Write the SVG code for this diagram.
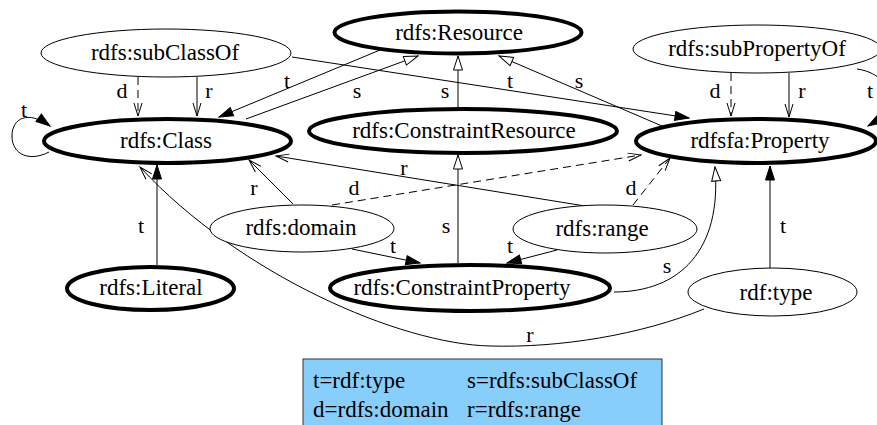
<svg xmlns="http://www.w3.org/2000/svg" width="877" height="425" viewBox="0 0 877 425">
  <style>
    text { font-family: "Liberation Serif", "Times New Roman", serif; font-size: 23px; fill: #000; }
    .node text { text-anchor: middle; }
    .lbl { text-anchor: middle; font-size: 22px; }
    .thin { fill: #fff; stroke: #000; stroke-width: 1; }
    .bold { fill: #fff; stroke: #000; stroke-width: 4; }
    .edge { fill: none; stroke: #000; stroke-width: 1; }
    .dash { stroke-dasharray: 8 5; }
    .t { marker-end: url(#arrowFilled); }
    .s { marker-end: url(#arrowHollow); }
    .v { marker-end: url(#arrowVee); }
  </style>
  <defs>
    <!-- t = rdf:type : filled head -->
    <marker id="arrowFilled" markerUnits="userSpaceOnUse" markerWidth="18" markerHeight="14" refX="15" refY="6" orient="auto" overflow="visible">
      <path d="M1,1.5 L15,6 L1,10.5 Z" fill="#000" stroke="#000" stroke-width="1"/>
    </marker>
    <!-- s = rdfs:subClassOf : hollow head -->
    <marker id="arrowHollow" markerUnits="userSpaceOnUse" markerWidth="18" markerHeight="14" refX="15" refY="6" orient="auto" overflow="visible">
      <path d="M1,1.5 L15,6 L1,10.5 Z" fill="#fff" stroke="#000" stroke-width="1"/>
    </marker>
    <!-- d / r : open vee head -->
    <marker id="arrowVee" markerUnits="userSpaceOnUse" markerWidth="18" markerHeight="14" refX="14" refY="6" orient="auto" overflow="visible">
      <path d="M1,2 L14,6 L1,10" fill="none" stroke="#000" stroke-width="1"/>
    </marker>
  </defs>

  <rect width="877" height="425" fill="#fff"/>

  <!-- connectors -->
  <g id="edges">
    <!-- rdfs:Class rdf:type rdfs:Class -->
    <path class="edge t" d="M49,152 C30,162 12,155 12,136 C12,118 28,110 50,126"/>
    <!-- subClassOf domain / range -->
    <path class="edge dash v" d="M138,77 L138,116"/>
    <path class="edge v" d="M197,77 L197,116"/>
    <!-- Resource type Class -->
    <path class="edge t" d="M380,50 L219,117"/>
    <!-- Class subClassOf Resource -->
    <path class="edge s" d="M246,119 L418,56"/>
    <!-- ConstraintResource subClassOf Resource -->
    <path class="edge s" d="M458,107 L458,56"/>
    <!-- subClassOf type Property -->
    <path class="edge t" d="M292,57 L689,118"/>
    <!-- Property subClassOf Resource -->
    <path class="edge s" d="M662,126 L499,56"/>
    <!-- subPropertyOf domain / range / type -->
    <path class="edge dash v" d="M731,73 L731,116"/>
    <path class="edge v" d="M789,73 L789,117"/>
    <path class="edge t" d="M857,69 C880,72 895,90 890,105 C886,115 878,120 868,126"/>
    <!-- domain -->
    <path class="edge v" d="M293,204 L249,160"/>
    <path class="edge dash v" d="M332,205 L641,155"/>
    <path class="edge t" d="M352,249 L420,263"/>
    <!-- range -->
    <path class="edge v" d="M585,206 L276,156"/>
    <path class="edge dash v" d="M633,205 L670,158"/>
    <path class="edge t" d="M557,250 L507,263"/>
    <!-- ConstraintProperty subClassOf ConstraintResource / Property -->
    <path class="edge s" d="M458,263 L458,155"/>
    <path class="edge s" d="M614,292 C680,292 722,250 715,167"/>
    <!-- rdf:type type Property -->
    <path class="edge t" d="M770,268 L770,166"/>
    <!-- Literal type Class -->
    <path class="edge t" d="M157,265 L157,165"/>
    <!-- rdf:type range Class -->
    <path class="edge v" d="M704,309 C640,335 560,348 490,346 C400,344 240,275 140,167"/>

    <!-- edge labels -->
    <text class="lbl" x="24" y="117">t</text>
    <text class="lbl" x="122" y="98">d</text>
    <text class="lbl" x="209" y="98">r</text>
    <text class="lbl" x="287" y="88">t</text>
    <text class="lbl" x="357" y="98">s</text>
    <text class="lbl" x="445" y="98">s</text>
    <text class="lbl" x="510" y="88">t</text>
    <text class="lbl" x="579" y="88">s</text>
    <text class="lbl" x="715" y="98">d</text>
    <text class="lbl" x="802" y="98">r</text>
    <text class="lbl" x="870" y="98">t</text>
    <text class="lbl" x="254" y="195">r</text>
    <text class="lbl" x="354" y="195">d</text>
    <text class="lbl" x="404" y="175">r</text>
    <text class="lbl" x="631" y="195">d</text>
    <text class="lbl" x="141" y="233">t</text>
    <text class="lbl" x="393" y="253">t</text>
    <text class="lbl" x="510" y="253">t</text>
    <text class="lbl" x="446" y="233">s</text>
    <text class="lbl" x="667" y="273">s</text>
    <text class="lbl" x="783" y="233">t</text>
    <text class="lbl" x="530" y="342">r</text>
  </g>

  <!-- nodes -->
  <g id="n-subClassOf" class="node">
    <ellipse class="thin" cx="166" cy="53" rx="125" ry="24"/>
    <text x="165" y="60">rdfs:subClassOf</text>
  </g>
  <g id="n-Resource" class="node">
    <ellipse class="bold" cx="458" cy="32.5" rx="123.5" ry="21"/>
    <text x="459" y="40">rdfs:Resource</text>
  </g>
  <g id="n-subPropertyOf" class="node">
    <ellipse class="thin" cx="757" cy="49" rx="124" ry="24"/>
    <text x="757" y="56">rdfs:subPropertyOf</text>
  </g>
  <g id="n-Class" class="node">
    <ellipse class="bold" cx="167.5" cy="141" rx="123.5" ry="22"/>
    <text x="166" y="148">rdfs:Class</text>
  </g>
  <g id="n-ConstraintResource" class="node">
    <ellipse class="bold" cx="463" cy="131" rx="154" ry="22"/>
    <text x="464" y="138">rdfs:ConstraintResource</text>
  </g>
  <g id="n-Property" class="node">
    <ellipse class="bold" cx="756" cy="141" rx="120" ry="22"/>
    <text x="760" y="148">rdfsfa:Property</text>
  </g>
  <g id="n-domain" class="node">
    <ellipse class="thin" cx="302" cy="228.5" rx="92" ry="23.5"/>
    <text x="301" y="235">rdfs:domain</text>
  </g>
  <g id="n-range" class="node">
    <ellipse class="thin" cx="605" cy="229" rx="92" ry="24"/>
    <text x="602" y="236">rdfs:range</text>
  </g>
  <g id="n-Literal" class="node">
    <ellipse class="bold" cx="150.5" cy="288.5" rx="83.5" ry="21.5"/>
    <text x="151" y="295">rdfs:Literal</text>
  </g>
  <g id="n-ConstraintProperty" class="node">
    <ellipse class="bold" cx="470" cy="288" rx="140" ry="23"/>
    <text x="462" y="295">rdfs:ConstraintProperty</text>
  </g>
  <g id="n-type" class="node">
    <ellipse class="thin" cx="772.5" cy="292" rx="84.5" ry="24"/>
    <text x="776" y="300">rdf:type</text>
  </g>

  <!-- key -->
  <g id="legend">
    <rect x="303" y="359" width="359" height="72" fill="#87cefa" stroke="#333" stroke-width="1"/>
    <text x="313" y="388">t=rdf:type</text>
    <text x="467" y="388">s=rdfs:subClassOf</text>
    <text x="313" y="417">d=rdfs:domain</text>
    <text x="467" y="417">r=rdfs:range</text>
  </g>
</svg>
